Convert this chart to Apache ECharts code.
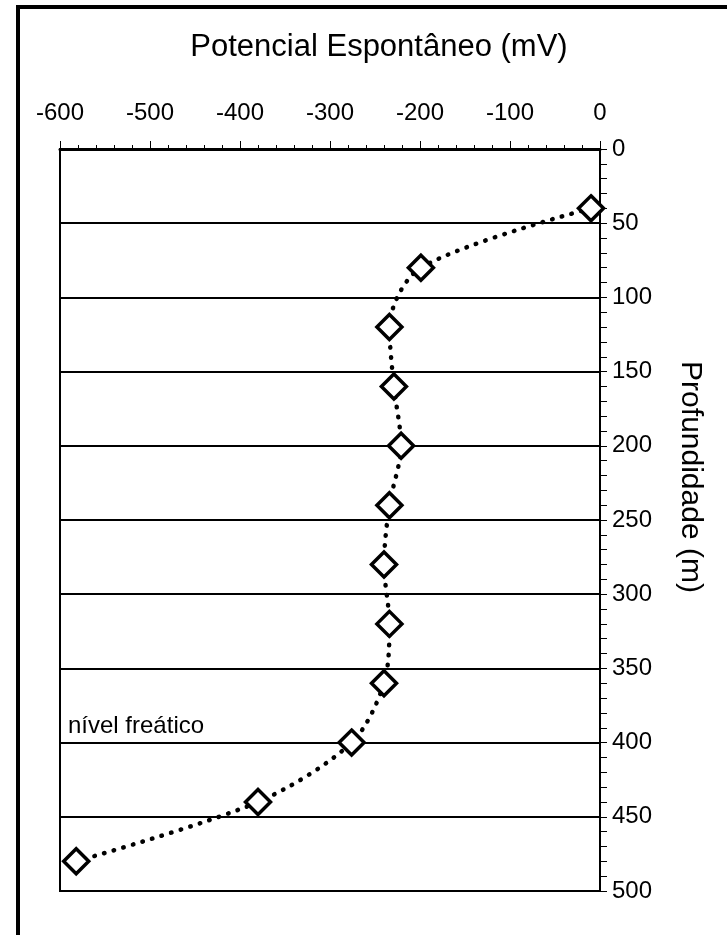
<!DOCTYPE html>
<html>
<head>
<meta charset="utf-8">
<script src="https://cdn.jsdelivr.net/npm/echarts@6/dist/echarts.min.js"></script>
<style>html,body{margin:0;padding:0;background:#fff}#c{width:727px;height:935px}</style>
</head>
<body>
<div id="c"></div>
<script>
var potential = [-10, -199, -234, -229, -221, -234, -240, -234, -240, -276, -380, -582];
var depth = [40, 80, 120, 160, 200, 240, 280, 320, 360, 400, 440, 480];
var xTitle = 'Potencial Espontâneo (mV)';
var yTitle = 'Profundidade (m)';
var note = 'nível freático';

var chart = echarts.init(document.getElementById('c'), null, {renderer: 'canvas'});
var pts = potential.map(function (v, i) { return [v, depth[i]]; });
var font = 'Liberation Sans, Arial, sans-serif';
chart.setOption({
  animation: false,
  backgroundColor: '#fff',
  grid: {left: 60, top: 149, width: 540, height: 742, show: true, borderColor: '#000', borderWidth: 2, backgroundColor: 'transparent'},
  xAxis: {
    type: 'value', position: 'top', min: -600, max: 0, interval: 100,
    axisLine: {show: true, lineStyle: {color: '#000', width: 3}},
    axisTick: {show: true, inside: false, length: 8, lineStyle: {color: '#000', width: 1}},
    minorTick: {show: true, splitNumber: 5, length: 4, lineStyle: {color: '#000', width: 1}},
    axisLabel: {color: '#000', fontSize: 24, fontFamily: font, margin: 24},
    splitLine: {show: false}
  },
  yAxis: {
    type: 'value', position: 'right', inverse: true, min: 0, max: 500, interval: 50,
    axisLine: {show: true, lineStyle: {color: '#000', width: 2}},
    axisTick: {show: true, inside: false, length: 7, lineStyle: {color: '#000', width: 1}},
    minorTick: {show: true, splitNumber: 5, length: 7, lineStyle: {color: '#000', width: 1}},
    axisLabel: {color: '#000', fontSize: 24, fontFamily: font, margin: 12},
    splitLine: {show: true, lineStyle: {color: '#000', width: 2}}
  },
  graphic: [
    {type: 'rect', shape: {x: 18, y: 7, width: 900, height: 1100}, style: {fill: 'none', stroke: '#000', lineWidth: 4}, silent: true},
    {type: 'text', x: 379, y: 47, style: {text: xTitle, font: '31px ' + font, fill: '#000', textAlign: 'center', textVerticalAlign: 'middle'}},
    {type: 'text', x: 690, y: 477, rotation: -Math.PI / 2, style: {text: yTitle, font: '30px ' + font, fill: '#000', textAlign: 'center', textVerticalAlign: 'middle'}},
    {type: 'text', x: 68, y: 726, style: {text: note, font: '24px ' + font, fill: '#000', textAlign: 'left', textVerticalAlign: 'middle'}}
  ],
  series: [{
    type: 'line', data: pts, smooth: 0.3,
    symbol: 'diamond', symbolSize: [25, 25], showAllSymbol: true,
    itemStyle: {color: '#fff', borderColor: '#000', borderWidth: 3.5},
    lineStyle: {color: '#000', width: 4.5, type: [0.5, 9.5], cap: 'round'},
    z: 5
  }]
});
</script>
</body>
</html>
